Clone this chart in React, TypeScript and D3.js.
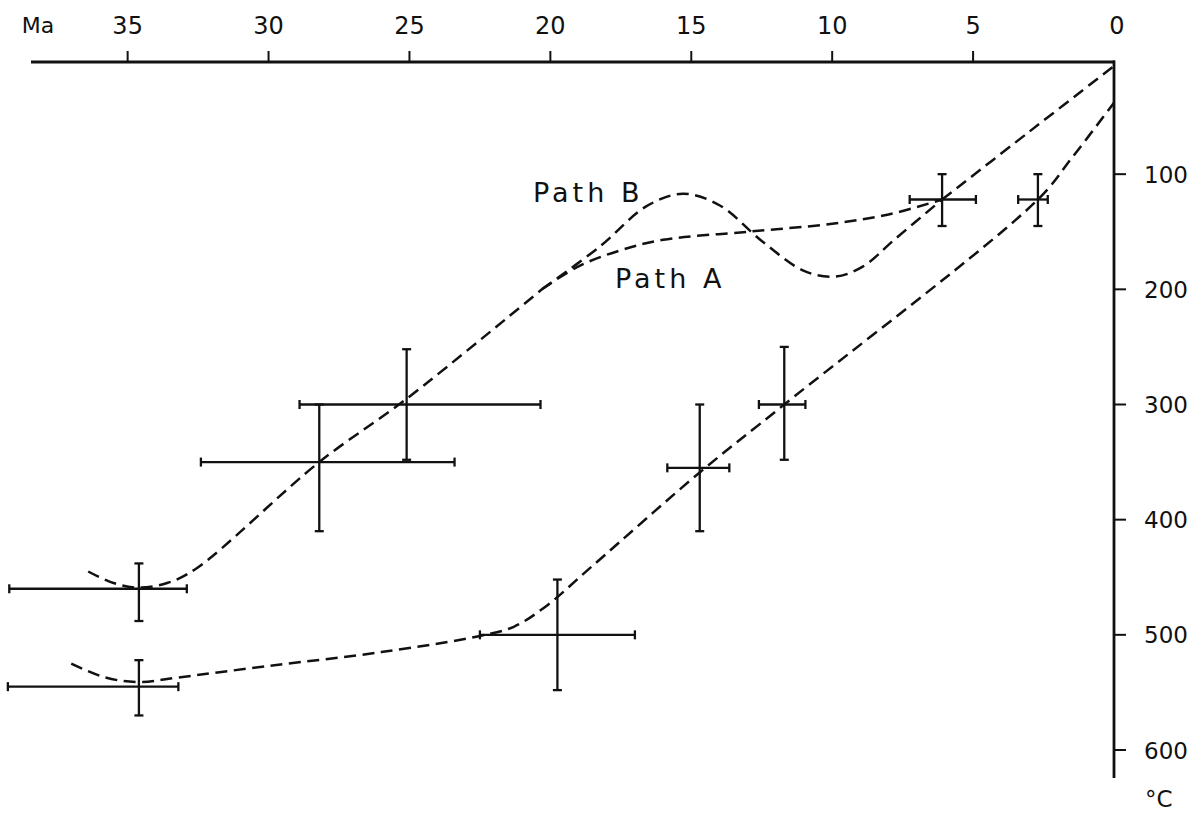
import { useRef, useEffect } from 'react';
import * as d3 from 'd3';

// age (Ma) and temperature (°C) of each dated sample, with their ranges
const age = [34.6, 34.6, 28.2, 25.1, 19.75, 14.7, 11.7, 6.1, 2.7];
const ageOld = [39.2, 39.25, 32.4, 28.9, 22.5, 15.85, 12.6, 7.25, 3.4];
const ageYoung = [32.9, 33.2, 23.4, 20.35, 17.0, 13.65, 10.95, 4.9, 2.35];
const temp = [460, 545, 350, 300, 500, 355, 300, 122, 122];
const tempLow = [438, 522, 300, 252, 452, 300, 250, 100, 100];
const tempHigh = [488, 570, 410, 348, 548, 410, 348, 145, 145];

type Pt = [number, number];

// upper cooling path, shared part up to the split near 20 Ma
const upperCommon: Pt[] = [
  [36.4, 445], [35.5, 455], [34.6, 459], [33.6, 455], [32.6, 443],
  [28.2, 350], [25.1, 295], [20.3, 200],
];
const pathB: Pt[] = [
  [20.3, 200], [18.2, 162], [16.6, 128], [15.3, 117], [14.0, 127],
  [12.5, 158], [11.0, 184], [9.9, 189], [8.9, 180], [7.8, 157], [6.1, 122],
];
const pathA: Pt[] = [
  [20.3, 200], [19.0, 180], [17.5, 166], [16.0, 157], [13.0, 150],
  [10.0, 143], [8.0, 135], [6.1, 122],
];
const upperEnd: Pt[] = [[6.1, 122], [3.0, 63], [0, 6]];

const lowerPath: Pt[] = [
  [37.0, 525], [35.8, 537], [34.6, 541], [33.2, 537], [30.0, 527],
  [26.0, 515], [22.5, 501], [21.3, 493], [20.2, 476], [18.5, 440],
  [14.7, 359], [11.7, 300], [2.7, 122], [1.5, 86], [0, 38],
];

const ageTicks = [35, 30, 25, 20, 15, 10, 5, 0];
const tempTicks = [100, 200, 300, 400, 500, 600];

const W = 1194;
const H = 814;
const FONT = "'DejaVu Sans', sans-serif";
const INK = '#111';

export default function App() {
  const svgRef = useRef<SVGSVGElement>(null);

  useEffect(() => {
    const svg = d3.select(svgRef.current);
    svg.selectAll('*').remove();

    const x = d3.scaleLinear().domain([0, 38.5]).range([1114, 29]);
    const y = d3.scaleLinear().domain([0, 600]).range([59, 750]);
    const axisY = 62;
    const axisX = x(0);
    const bottom = 778;

    const g = svg.append('g');

    // top age axis
    g.append('line')
      .attr('x1', 31).attr('x2', axisX + 1)
      .attr('y1', axisY).attr('y2', axisY)
      .attr('stroke', INK).attr('stroke-width', 2.8);
    g.selectAll('.xtick')
      .data(ageTicks.filter((d) => d > 0))
      .join('line')
      .attr('x1', (d) => x(d)).attr('x2', (d) => x(d))
      .attr('y1', axisY).attr('y2', axisY - 11)
      .attr('stroke', INK).attr('stroke-width', 2);
    g.selectAll('.xlab')
      .data(ageTicks)
      .join('text')
      .attr('x', (d) => x(d) + (d === 0 ? 3 : 0))
      .attr('y', 34)
      .attr('text-anchor', 'middle')
      .attr('font-family', FONT)
      .attr('font-size', 24)
      .attr('fill', INK)
      .text((d) => String(d));
    g.append('text')
      .attr('x', 38).attr('y', 33)
      .attr('text-anchor', 'middle')
      .attr('font-family', FONT).attr('font-size', 22)
      .attr('fill', INK)
      .text('Ma');

    // right temperature axis
    g.append('line')
      .attr('x1', axisX).attr('x2', axisX)
      .attr('y1', axisY - 1.4).attr('y2', bottom)
      .attr('stroke', INK).attr('stroke-width', 2.8);
    g.selectAll('.ytick')
      .data(tempTicks)
      .join('line')
      .attr('x1', axisX).attr('x2', axisX + 12)
      .attr('y1', (d) => y(d)).attr('y2', (d) => y(d))
      .attr('stroke', INK).attr('stroke-width', 2);
    g.selectAll('.ylab')
      .data(tempTicks)
      .join('text')
      .attr('x', axisX + 30)
      .attr('y', (d) => y(d) + 8.5)
      .attr('font-family', FONT)
      .attr('font-size', 23)
      .attr('fill', INK)
      .text((d) => String(d));
    g.append('text')
      .attr('x', axisX + 31).attr('y', 807)
      .attr('font-family', FONT).attr('font-size', 23)
      .attr('fill', INK)
      .text('°C');

    // dashed cooling paths
    const line = d3.line<Pt>()
      .x((d) => x(d[0]))
      .y((d) => y(d[1]))
      .curve(d3.curveCatmullRom.alpha(0.5));
    [upperCommon, pathB, pathA, upperEnd, lowerPath].forEach((pts) => {
      g.append('path')
        .attr('d', line(pts))
        .attr('fill', 'none')
        .attr('stroke', INK)
        .attr('stroke-width', 2.5)
        .attr('stroke-dasharray', '12 6.5');
    });

    // error crosses
    const idx = d3.range(age.length);
    const cap = 4.5;
    const bars = g.append('g').attr('stroke', INK).attr('stroke-width', 2.3);
    idx.forEach((i) => {
      const cx = x(age[i]);
      const cy = y(temp[i]);
      const x0 = x(ageOld[i]);
      const x1 = x(ageYoung[i]);
      const y0 = y(tempLow[i]);
      const y1 = y(tempHigh[i]);
      bars.append('line').attr('x1', x0).attr('x2', x1).attr('y1', cy).attr('y2', cy);
      bars.append('line').attr('x1', x0).attr('x2', x0).attr('y1', cy - cap).attr('y2', cy + cap);
      bars.append('line').attr('x1', x1).attr('x2', x1).attr('y1', cy - cap).attr('y2', cy + cap);
      bars.append('line').attr('x1', cx).attr('x2', cx).attr('y1', y0).attr('y2', y1);
      bars.append('line').attr('x1', cx - cap).attr('x2', cx + cap).attr('y1', y0).attr('y2', y0);
      bars.append('line').attr('x1', cx - cap).attr('x2', cx + cap).attr('y1', y1).attr('y2', y1);
    });

    // path labels
    g.append('text')
      .attr('x', 533).attr('y', 202)
      .attr('font-family', FONT).attr('font-size', 27)
      .attr('letter-spacing', 4)
      .attr('fill', INK)
      .text('Path B');
    g.append('text')
      .attr('x', 615).attr('y', 288)
      .attr('font-family', FONT).attr('font-size', 27)
      .attr('letter-spacing', 4)
      .attr('fill', INK)
      .text('Path A');
  }, []);

  return (
    <div style={{ position: 'absolute', left: 0, top: 0, background: '#fff' }}>
      <svg ref={svgRef} width={W} height={H} viewBox={`0 0 ${W} ${H}`} style={{ display: 'block' }} />
    </div>
  );
}
